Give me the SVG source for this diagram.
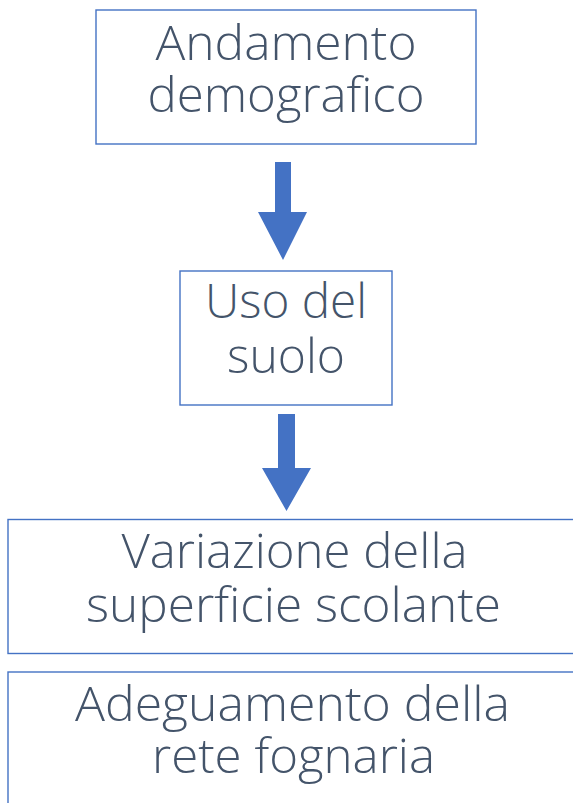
<svg xmlns="http://www.w3.org/2000/svg" width="573" height="803" viewBox="0 0 573 803">
<style>
.box{fill:#ffffff;stroke:#4472C4;stroke-width:1.4}
.t{font-family:"Open Sans","Liberation Sans",sans-serif;font-weight:300;font-size:48px;fill:#44546A;text-anchor:middle}
.arr{fill:#4472C4}
</style>
<rect width="573" height="803" fill="#ffffff"/>
<g id="connectors">
<polygon class="arr" points="275,162 291,162 291,212 307,212 283,260 258,212 275,212"/>
<polygon class="arr" points="278,414 295,414 295,468 311,468 286.5,511 262,468 278,468"/>
</g>
<g id="node1">
<rect class="box" x="96" y="10" width="380" height="134"/>
<text class="t"><tspan x="286" y="60" textLength="261" lengthAdjust="spacingAndGlyphs">Andamento</tspan><tspan x="286" y="112" textLength="277" lengthAdjust="spacingAndGlyphs">demografico</tspan></text>
</g>
<g id="node2">
<rect class="box" x="180" y="271" width="212" height="134"/>
<text class="t"><tspan x="286" y="318" textLength="162" lengthAdjust="spacingAndGlyphs">Uso del</tspan><tspan x="286" y="373" textLength="118" lengthAdjust="spacingAndGlyphs">suolo</tspan></text>
</g>
<g id="node3">
<rect class="box" x="8" y="519.5" width="575" height="134"/>
<text class="t"><tspan x="294.5" y="568" textLength="346" lengthAdjust="spacingAndGlyphs">Variazione della</tspan><tspan x="293.5" y="622" textLength="415" lengthAdjust="spacingAndGlyphs">superficie scolante</tspan></text>
</g>
<g id="node4">
<rect class="box" x="8" y="672" width="575" height="150"/>
<text class="t"><tspan x="292.5" y="721" textLength="435" lengthAdjust="spacingAndGlyphs">Adeguamento della</tspan><tspan x="293.5" y="773" textLength="283" lengthAdjust="spacingAndGlyphs">rete fognaria</tspan></text>
</g>
</svg>
